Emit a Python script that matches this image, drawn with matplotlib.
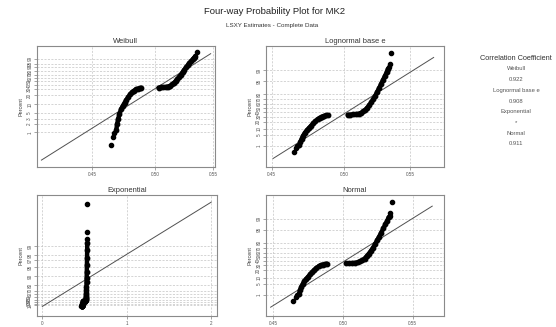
import numpy as np
import matplotlib
matplotlib.use("Agg")
from matplotlib import pyplot as plt
from matplotlib.ticker import NullLocator
from statistics import NormalDist

plt.rcParams['font.family'] = ['Liberation Sans Narrow', 'Liberation Sans', 'DejaVu Sans']

# Sample values and the percent they are plotted at
low_tail_vals = [0.4645, 0.4662, 0.4667]
low_tail_pct = [0.35, 0.70, 0.95]

lower_vals = [0.4685, 0.4692, 0.4700, 0.4710, 0.4722, 0.4735, 0.4750, 0.4765,
              0.4780, 0.4795, 0.4810, 0.4825, 0.4840, 0.4855, 0.4870, 0.4885]
lower_pct = [1.2, 2.0, 3.0, 4.5, 6.5, 8.5, 11.0, 14.0,
             17.5, 21.0, 24.5, 27.5, 30.0, 31.5, 32.5, 33.3]

upper_vals = [0.5025, 0.5045, 0.5065, 0.5085, 0.5105, 0.5125, 0.5140, 0.5155,
              0.5170, 0.5185, 0.5200, 0.5215, 0.5230, 0.5245, 0.5260, 0.5275,
              0.5290, 0.5305, 0.5318, 0.5328]
upper_pct = [33.8, 34.2, 34.7, 35.3, 36.3, 38.5, 41.5, 45.5,
             51.0, 57.0, 63.5, 70.5, 77.5, 84.0, 89.0, 93.0,
             95.8, 97.6, 98.6, 99.2]

top_tail_vals = [0.5335, 0.5340, 0.5353]
top_tail_pct = [99.4, 99.65, 99.96]

# LSXY fit parameters
weibull_shape, weibull_scale = 31.5, 0.5153
lognorm_mu, lognorm_sigma = -0.680, 0.0377
exp_mean = 0.2516
norm_mu, norm_sigma = 0.5061, 0.01876

corr_labels = ['Weibull', 'Lognormal base e', 'Exponential', 'Normal']
corr_values = ['0.922', '0.908', '*', '0.911']

weibull_yticks = [1, 2, 3, 5, 10, 20, 30, 40, 50, 60, 70, 80, 90, 95, 99]
normal_yticks = [1, 5, 10, 20, 30, 40, 50, 60, 70, 80, 95, 99]
exp_yticks = [10, 20, 30, 40, 50, 60, 70, 80, 90, 95, 97, 98, 99]
value_xticks = [0.45, 0.50, 0.55]
exp_xticks = [0, 1, 2]

_nd = NormalDist()


# Probability scales (percent -> plotting position and back)
def norm_fwd(p):
    p = np.clip(np.asarray(p, float), 1e-10, 100 - 1e-10) / 100
    return np.vectorize(_nd.inv_cdf, otypes=[float])(p)


def norm_inv(z):
    return 100 * np.vectorize(_nd.cdf, otypes=[float])(np.asarray(z, float))


def weib_fwd(p):
    p = np.clip(np.asarray(p, float), 1e-10, 100 - 1e-10) / 100
    return np.log(-np.log(1 - p))


def weib_inv(w):
    return 100 * (1 - np.exp(-np.exp(np.asarray(w, float))))


def exp_fwd(p):
    p = np.minimum(np.asarray(p, float), 100 - 1e-10) / 100
    return -np.log(1 - p)


def exp_inv(y):
    return 100 * (1 - np.exp(-np.asarray(y, float)))


def draw_points(ax):
    for xs, ps in [(lower_vals, lower_pct), (upper_vals, upper_pct)]:
        ax.plot(xs, ps, color='black', lw=3.2, marker='o', ms=3.2,
                solid_capstyle='round', zorder=3)
    ax.plot(low_tail_vals, low_tail_pct, 'o', color='black', ms=3, zorder=3)
    ax.plot(top_tail_vals, top_tail_pct, 'o', color='black', ms=3, zorder=3)


def style(ax, title, yticks, xticks, xlabels):
    ax.set_title(title, fontsize=5.4, color='#333333', pad=2)
    ax.set_yticks(yticks, labels=[str(t) for t in yticks])
    ax.set_xticks(xticks, labels=xlabels)
    ax.xaxis.set_minor_locator(NullLocator())
    ax.yaxis.set_minor_locator(NullLocator())
    ax.grid(True, color='#c4c4c4', ls=(0, (3, 2)), lw=0.5)
    for s in ax.spines.values():
        s.set_color('#8a8a8a')
        s.set_linewidth(0.8)
    ax.tick_params(labelsize=3.3, length=2.2, width=0.5, color='#808080',
                   labelcolor='#555555', pad=1.2)
    # R-style y tick labels run parallel to the axis
    ax.tick_params(axis='y', labelrotation=90)
    for lab in ax.get_yticklabels():
        lab.set_verticalalignment('center')
    ax.set_ylabel('Percent', fontsize=4, color='#444444', labelpad=3)


fig = plt.figure(figsize=(5.56, 3.27), dpi=100)
fig.patch.set_facecolor('white')

line_pct = np.array([0.1, 99.9])
value_labels = ['0.45', '0.50', '0.55']

# Weibull
ax = fig.add_axes([0.0665, 0.4893, 0.3201, 0.3700])
ax.set_xscale('log')
ax.set_yscale('function', functions=(weib_fwd, weib_inv))
draw_points(ax)
ax.plot(weibull_scale * (-np.log(1 - line_pct / 100)) ** (1 / weibull_shape), line_pct,
        color='#505050', lw=0.7, zorder=2)
style(ax, 'Weibull', weibull_yticks, value_xticks, value_labels)
ax.set_xlim(0.4108, 0.5518)
ax.set_ylim(weib_inv(-7.48), weib_inv(2.57))

# Lognormal base e
ax = fig.add_axes([0.4784, 0.4893, 0.3201, 0.3700])
ax.set_xscale('log')
ax.set_yscale('function', functions=(norm_fwd, norm_inv))
draw_points(ax)
ax.plot(np.exp(lognorm_mu + lognorm_sigma * norm_fwd(line_pct)), line_pct,
        color='#505050', lw=0.7, zorder=2)
style(ax, 'Lognormal base e', normal_yticks, value_xticks, value_labels)
ax.set_xlim(0.4463, 0.5778)
ax.set_ylim(norm_inv(-3.61), norm_inv(3.79))

# Exponential
ax = fig.add_axes([0.0665, 0.0336, 0.3237, 0.3700])
ax.set_yscale('function', functions=(exp_fwd, exp_inv))
draw_points(ax)
exp_line_pct = np.array([0.0, 99.965])
ax.plot(exp_mean * exp_fwd(exp_line_pct), exp_line_pct, color='#505050', lw=0.7, zorder=2)
style(ax, 'Exponential', exp_yticks, exp_xticks, [str(t) for t in exp_xticks])
ax.set_xlim(-0.063, 2.07)
ax.set_ylim(exp_inv(-0.73), exp_inv(8.5))

# Normal
ax = fig.add_axes([0.4784, 0.0336, 0.3201, 0.3700])
ax.set_yscale('function', functions=(norm_fwd, norm_inv))
draw_points(ax)
ax.plot(norm_mu + norm_sigma * norm_fwd(line_pct), line_pct, color='#505050', lw=0.7, zorder=2)
style(ax, 'Normal', normal_yticks, value_xticks, value_labels)
ax.set_xlim(0.4448, 0.5725)
ax.set_ylim(norm_inv(-3.63), norm_inv(3.77))

# Titles
fig.text(0.494, 1 - 12 / 327, 'Four-way Probability Plot for MK2', ha='center', va='center',
         fontsize=6.8, color='#222222')
fig.text(0.490, 1 - 25 / 327, 'LSXY Estimates - Complete Data', ha='center', va='center',
         fontsize=4.5, color='#333333')

# Correlation coefficient panel
cx = 516 / 556
fig.text(cx, 1 - 58 / 327, 'Correlation Coefficient', ha='center', va='center',
         fontsize=5.3, color='#333333')
y = 69
for name, val in zip(corr_labels, corr_values):
    fig.text(cx, 1 - y / 327, name, ha='center', va='center', fontsize=4.2, color='#555555')
    fig.text(cx, 1 - (y + 10.7) / 327, val, ha='center', va='center', fontsize=4.2,
             color='#555555')
    y += 21.4

fig.savefig('out.png', dpi=100)
